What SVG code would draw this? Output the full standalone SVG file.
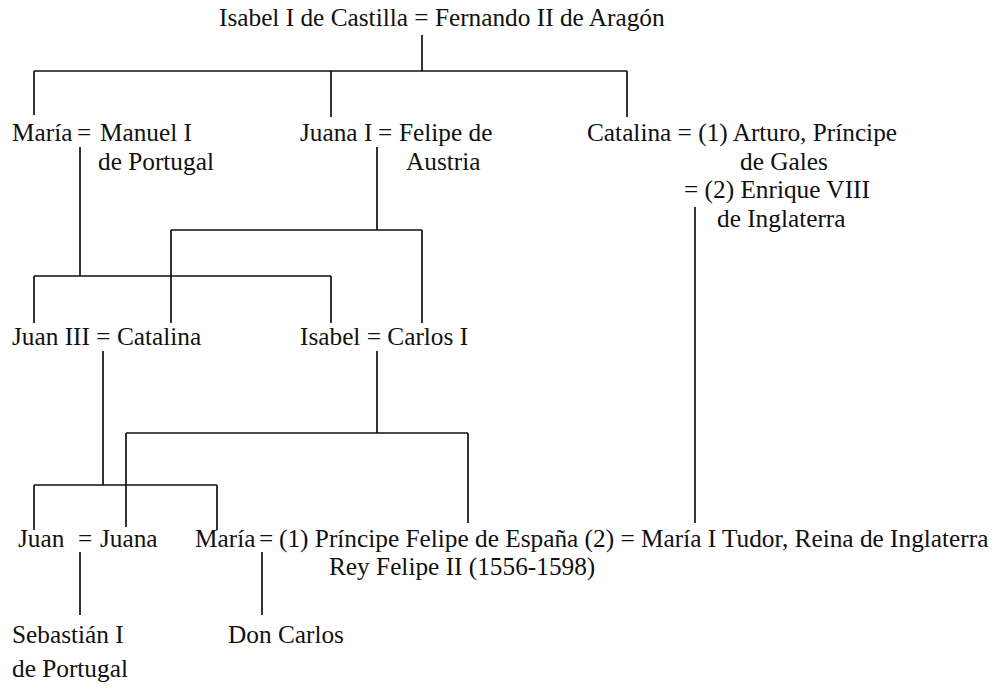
<svg xmlns="http://www.w3.org/2000/svg" width="999" height="689" viewBox="0 0 999 689">
<style>
text{font-family:"Liberation Serif","Times New Roman",serif;font-size:25.3px;fill:#111}
.c{stroke:#111;stroke-width:1.7;fill:none}
</style>
<rect width="999" height="689" fill="#fff"/>
<g id="connectors" class="c">
<path d="M422 35V71M34 71H627M34 71V115M331 71V117M627 71V117"/>
<path d="M80 147V276M34 276H331M34 276V323M331 276V323"/>
<path d="M377 147V230M171 230H422M171 230V323M422 230V323"/>
<path d="M695 207V523"/>
<path d="M103 351V485M34 485H217M34 485V530M217 485V530"/>
<path d="M377 351V433M126 433H468M126 433V527M468 433V523"/>
<path d="M80 552V615M262 552V615"/>
</g>
<g id="n-isabel-fernando"><text x="219" y="26">Isabel I de Castilla = Fernando II de Aragón</text></g>
<g id="n-maria-manuel"><text x="12" y="141">María</text><text x="77" y="141">=</text><text x="100" y="141">Manuel I</text><text x="98" y="170">de Portugal</text></g>
<g id="n-juana-felipe"><text x="300" y="141">Juana I</text><text x="378" y="141">=</text><text x="399" y="141">Felipe de</text><text x="406" y="170">Austria</text></g>
<g id="n-catalina"><text x="587" y="141">Catalina = (1) Arturo, Príncipe</text><text x="740" y="169.5">de Gales</text><text x="684" y="198">= (2) Enrique VIII</text><text x="717" y="226.5">de Inglaterra</text></g>
<g id="n-juan3-catalina"><text x="12" y="345">Juan III = Catalina</text></g>
<g id="n-isabel-carlos"><text x="300" y="345">Isabel = Carlos I</text></g>
<g id="n-juan-juana"><text x="18" y="547">Juan</text><text x="78" y="547">=</text><text x="100" y="547">Juana</text></g>
<g id="n-maria-felipe"><text x="195" y="547">María</text><text x="259" y="547">=</text><text x="279" y="547">(1) Príncipe Felipe de España (2) = María I Tudor, Reina de Inglaterra</text><text x="329" y="575">Rey Felipe II (1556-1598)</text></g>
<g id="n-sebastian"><text x="12" y="643">Sebastián I</text><text x="12" y="677">de Portugal</text></g>
<g id="n-doncarlos"><text x="228" y="643">Don Carlos</text></g>
</svg>
